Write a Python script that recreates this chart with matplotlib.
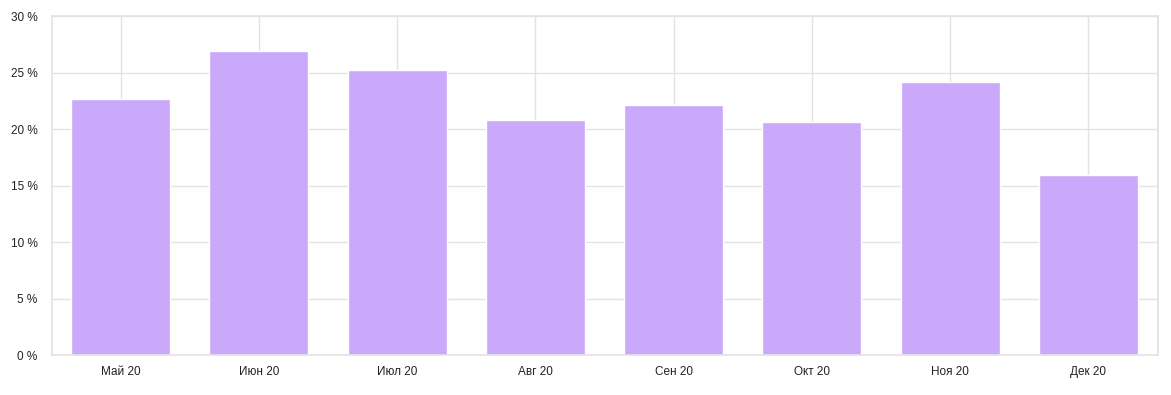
import matplotlib
matplotlib.use("Agg")
import matplotlib.pyplot as plt
import numpy as np

categories = ["Май 20", "Июн 20", "Июл 20", "Авг 20", "Сен 20", "Окт 20", "Ноя 20", "Дек 20"]
values = [22.67, 26.93, 25.24, 20.8, 22.14, 20.64, 24.18, 15.94]
yticks = [0, 5, 10, 15, 20, 25, 30]
ytick_labels = [f"{t} %" for t in yticks]

plt.rcParams['font.family'] = ['Liberation Sans', 'DejaVu Sans']

fig = plt.figure(figsize=(11.71, 3.95), dpi=100)
ax = fig.add_axes([51.5/1171, 40/395, (1157.5-51.5)/1171, (355-16.3)/395])

x = np.arange(len(categories))
grid_c = "#e3e3e3"
ax.set_axisbelow(True)
ax.bar(x, values, width=0.716, color="#caa8fa", edgecolor="white", linewidth=1.0, zorder=2)

ax.set_xlim(-0.5, len(categories) - 0.5)
ax.set_ylim(0, 30)
ax.set_yticks(yticks)
ax.set_yticklabels(ytick_labels)
ax.set_xticks(x)
ax.set_xticklabels(categories)
ax.tick_params(axis='both', length=0, labelsize=8.5, colors="#222222")
ax.tick_params(axis='y', pad=10)
ax.tick_params(axis='x', pad=8)

ax.yaxis.grid(True, color=grid_c, linewidth=1)
for xi in x:
    ax.axvline(xi, color=grid_c, linewidth=1, zorder=0.5)
ax.axvline(len(categories) - 0.5, color=grid_c, linewidth=1.2, zorder=0.5)

for s in ax.spines.values():
    s.set_color(grid_c)
    s.set_linewidth(1.2)

fig.savefig("out.png", dpi=100)
